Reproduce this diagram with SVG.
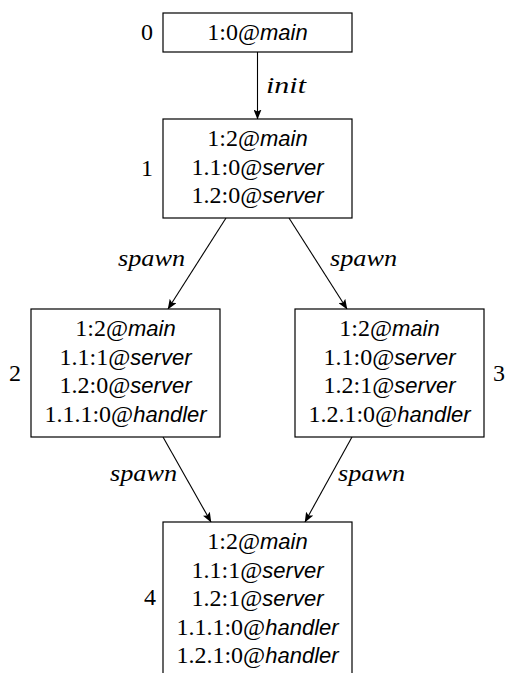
<svg xmlns="http://www.w3.org/2000/svg" width="505" height="673" viewBox="0 0 505 673">
  <style>
    .box { fill: #ffffff; stroke: #000000; stroke-width: 1.2; }
    .t { font-family: "Liberation Serif", "Times New Roman", serif; font-size: 24px; fill: #000000; text-anchor: middle; }
    .s { font-family: "Liberation Sans", Arial, sans-serif; font-style: italic; font-size: 22px; }
    .num { font-family: "Liberation Serif", "Times New Roman", serif; font-size: 24px; fill: #000000; text-anchor: middle; }
    .lbl { font-family: "Liberation Serif", "Times New Roman", serif; font-style: italic; font-size: 24px; fill: #000000; }
    .edge { fill: none; stroke: #000000; stroke-width: 1.1; marker-end: url(#head); }
  </style>
  <defs>
    <marker id="head" viewBox="0 0 10 8" refX="9.5" refY="4" markerWidth="10" markerHeight="8" markerUnits="userSpaceOnUse" orient="auto">
      <path d="M0,0 L10,4 L0,8 L2,4 z" fill="#000000"/>
    </marker>
  </defs>

  <!-- state transitions -->
  <g id="edges">
    <line class="edge" x1="257.5" y1="52" x2="257.5" y2="119"/>
    <text class="lbl" x="266" y="93" textLength="40" lengthAdjust="spacingAndGlyphs">init</text>

    <line class="edge" x1="226" y1="218" x2="168" y2="309"/>
    <text class="lbl" x="118" y="266" textLength="67" lengthAdjust="spacingAndGlyphs">spawn</text>

    <line class="edge" x1="289" y1="218" x2="347" y2="309"/>
    <text class="lbl" x="330" y="266" textLength="67" lengthAdjust="spacingAndGlyphs">spawn</text>

    <line class="edge" x1="163" y1="437" x2="211" y2="522"/>
    <text class="lbl" x="110" y="481" textLength="67" lengthAdjust="spacingAndGlyphs">spawn</text>

    <line class="edge" x1="352" y1="437" x2="305" y2="522"/>
    <text class="lbl" x="338" y="481" textLength="67" lengthAdjust="spacingAndGlyphs">spawn</text>
  </g>

  <!-- state 0 -->
  <g id="state0">
    <rect class="box" x="163" y="13" width="189" height="39"/>
    <text class="num" x="147" y="40">0</text>
    <text class="t" x="257.5" y="40">1:0@<tspan class="s">main</tspan></text>
  </g>

  <!-- state 1 -->
  <g id="state1">
    <rect class="box" x="163" y="119" width="189" height="99"/>
    <text class="num" x="147" y="176">1</text>
    <text class="t" x="257.5" y="146">1:2@<tspan class="s">main</tspan></text>
    <text class="t" x="257.5" y="174.5">1.1:0@<tspan class="s">server</tspan></text>
    <text class="t" x="257.5" y="203">1.2:0@<tspan class="s">server</tspan></text>
  </g>

  <!-- state 2 -->
  <g id="state2">
    <rect class="box" x="31" y="309" width="189" height="128"/>
    <text class="num" x="15" y="381">2</text>
    <text class="t" x="125.5" y="336">1:2@<tspan class="s">main</tspan></text>
    <text class="t" x="125.5" y="364.5">1.1:1@<tspan class="s">server</tspan></text>
    <text class="t" x="125.5" y="393">1.2:0@<tspan class="s">server</tspan></text>
    <text class="t" x="125.5" y="421.5">1.1.1:0@<tspan class="s">handler</tspan></text>
  </g>

  <!-- state 3 -->
  <g id="state3">
    <rect class="box" x="295" y="309" width="189" height="128"/>
    <text class="num" x="499" y="381">3</text>
    <text class="t" x="389.5" y="336">1:2@<tspan class="s">main</tspan></text>
    <text class="t" x="389.5" y="364.5">1.1:0@<tspan class="s">server</tspan></text>
    <text class="t" x="389.5" y="393">1.2:1@<tspan class="s">server</tspan></text>
    <text class="t" x="389.5" y="421.5">1.2.1:0@<tspan class="s">handler</tspan></text>
  </g>

  <!-- state 4 -->
  <g id="state4">
    <rect class="box" x="163" y="522" width="189" height="154"/>
    <text class="num" x="150" y="605">4</text>
    <text class="t" x="257.5" y="549">1:2@<tspan class="s">main</tspan></text>
    <text class="t" x="257.5" y="577.5">1.1:1@<tspan class="s">server</tspan></text>
    <text class="t" x="257.5" y="606">1.2:1@<tspan class="s">server</tspan></text>
    <text class="t" x="257.5" y="634.5">1.1.1:0@<tspan class="s">handler</tspan></text>
    <text class="t" x="257.5" y="663">1.2.1:0@<tspan class="s">handler</tspan></text>
  </g>
</svg>
